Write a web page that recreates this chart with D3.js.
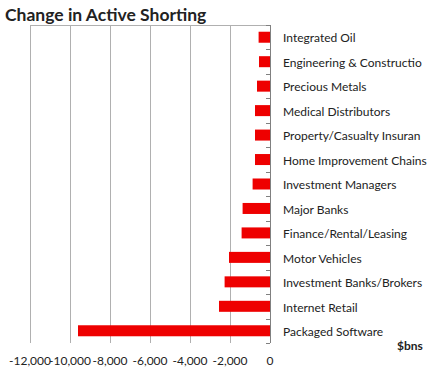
<!DOCTYPE html>
<html>
<head>
<meta charset="utf-8">
<script src="https://cdn.jsdelivr.net/npm/d3@7"></script>
<style>
  body { margin: 0; background: #fff; }
  text { font-family: Lato, "Open Sans", sans-serif; fill: #222; }
</style>
</head>
<body>
<svg id="chart" width="434" height="371"></svg>
<script>
var categories = ["Integrated Oil", "Engineering & Constructio", "Precious Metals",
  "Medical Distributors", "Property/Casualty Insuran", "Home Improvement Chains",
  "Investment Managers", "Major Banks", "Finance/Rental/Leasing", "Motor Vehicles",
  "Investment Banks/Brokers", "Internet Retail", "Packaged Software"];
var values = [-570, -550, -650, -750, -750, -750, -870, -1370, -1420, -2050, -2270, -2550, -9600];
var tickValues = [-12000, -10000, -8000, -6000, -4000, -2000, 0];

var svg = d3.select("#chart");
var plotL = 30, plotR = 270, plotT = 25, plotB = 343;

var x = d3.scaleLinear().domain([-12000, 0]).range([plotL, plotR]);
var y = d3.scaleBand().domain(categories).range([plotT, plotB]).paddingInner(0.55).paddingOuter(0.275);

// title
svg.append("text")
  .attr("x", 5).attr("y", 21)
  .attr("font-size", 17.5).attr("font-weight", "bold")
  .text("Change in Active Shorting");

// gridlines
svg.append("g").selectAll("line")
  .data(tickValues.slice(0, -1))
  .enter().append("line")
  .attr("x1", d => x(d) + 0.5).attr("x2", d => x(d) + 0.5)
  .attr("y1", plotT).attr("y2", plotB)
  .attr("stroke", "#b0b0b0").attr("stroke-width", 1);

// top line
svg.append("line")
  .attr("x1", plotL).attr("x2", plotR)
  .attr("y1", plotT + 0.5).attr("y2", plotT + 0.5)
  .attr("stroke", "#b0b0b0");

// bars
svg.append("g").selectAll("rect")
  .data(values)
  .enter().append("rect")
  .attr("x", d => x(d))
  .attr("y", (d, i) => y(categories[i]))
  .attr("width", d => x(0) - x(d))
  .attr("height", y.bandwidth())
  .attr("fill", "#ee0000");

// category axis (ticks between bands, labels right)
var bounds = d3.range(categories.length + 1).map(i => plotT + i * y.step());
svg.append("g").selectAll("line")
  .data(bounds)
  .enter().append("line")
  .attr("x1", x(0) - 4).attr("x2", x(0))
  .attr("y1", d => Math.round(d) + 0.5).attr("y2", d => Math.round(d) + 0.5)
  .attr("stroke", "#808080");
svg.append("line")
  .attr("x1", x(0) + 0.5).attr("x2", x(0) + 0.5)
  .attr("y1", plotT).attr("y2", plotB)
  .attr("stroke", "#808080");

svg.append("g").selectAll("text")
  .data(categories)
  .enter().append("text")
  .attr("x", 283)
  .attr("y", d => y(d) + y.bandwidth() / 2 + 1)
  .attr("dy", "0.35em")
  .attr("font-size", 12)
  .text(d => d);

// value axis labels
var fmt = d3.format(",");
svg.append("g").selectAll("text")
  .data(tickValues)
  .enter().append("text")
  .attr("x", d => x(d))
  .attr("y", 365)
  .attr("text-anchor", "middle")
  .attr("font-size", 12)
  .text(d => d === 0 ? "0" : "-" + fmt(-d));

svg.append("text")
  .attr("x", 397).attr("y", 350)
  .attr("font-size", 12).attr("font-weight", "bold")
  .text("$bns");
</script>
</body>
</html>
